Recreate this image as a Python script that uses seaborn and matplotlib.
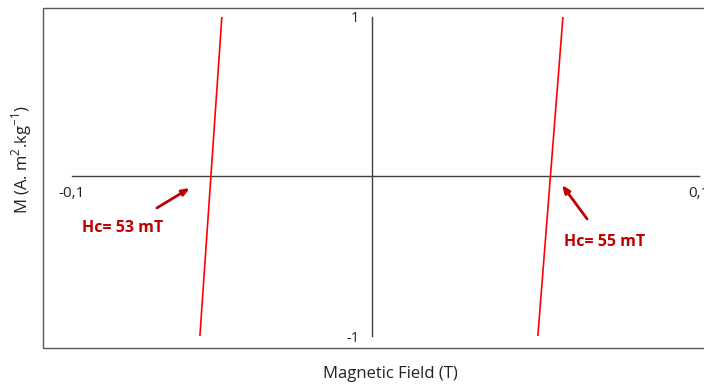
import matplotlib
matplotlib.use("Agg")
import matplotlib.pyplot as plt
import seaborn as sns
import pandas as pd
from matplotlib.patches import Rectangle

# hysteresis branches (field in T, M normalised)
left_field = [-0.0592, -0.0522]
left_m = [-1, 1]
right_field = [0.0486, 0.0566]
right_m = [-1, 1]

xticks = [-0.1, 0, 0.1]
xtick_labels = ['-0,1', '', '0,1']
yticks = [-1, 1]
ytick_labels = ['-1', '1']

labels = ['Hc= 53 mT', 'Hc= 55 mT']
arrow_tails = [(-0.0729, -0.197), (0.0643, -0.266)]
arrow_heads = [(-0.0624, -0.072), (0.0563, -0.053)]
label_pos = [(-0.0837, -0.323), (0.0700, -0.411)]

sns.set_style('white')
plt.rcParams['font.family'] = ['Open Sans', 'DejaVu Sans']
plt.rcParams['mathtext.fontset'] = 'custom'
plt.rcParams['mathtext.rm'] = 'Open Sans'

fig = plt.figure(figsize=(7.04, 3.85), dpi=100)
ax = fig.add_axes([72 / 704, 1 - 336 / 385, 627 / 704, 319 / 385])

left_df = pd.DataFrame({'H': left_field, 'M': left_m})
right_df = pd.DataFrame({'H': right_field, 'M': right_m})
sns.lineplot(data=left_df, x='H', y='M', color='#ff0000', linewidth=1.2, sort=False, ax=ax)
sns.lineplot(data=right_df, x='H', y='M', color='#ff0000', linewidth=1.2, sort=False, ax=ax)

ax.set_xlim(-0.1, 0.1)
ax.set_ylim(-1, 1)
ax.set_xlabel('')
ax.set_ylabel('')

# axes cross in the middle like the excel chart
ax.spines['right'].set_visible(False)
ax.spines['top'].set_visible(False)
ax.spines['left'].set_position(('data', -0.0043))
ax.spines['bottom'].set_position(('data', 0))
for s in ['left', 'bottom']:
    ax.spines[s].set_color('#404040')
    ax.spines[s].set_linewidth(1)
    ax.spines[s].set_zorder(1)

ax.set_xticks(xticks)
ax.set_xticklabels(xtick_labels)
ax.set_yticks(yticks)
ax.set_yticklabels(ytick_labels)
ax.tick_params(axis='x', length=3, width=0.8, color='#404040', pad=4, labelsize=11, labelcolor='#222222')
ax.tick_params(axis='y', length=0, pad=9, labelsize=10.5, labelcolor='#222222')
ax.patch.set_alpha(0)

for lab, tail, head, pos in zip(labels, arrow_tails, arrow_heads, label_pos):
    ax.annotate('', xy=head, xytext=tail,
                arrowprops=dict(arrowstyle='-|>,head_length=0.45,head_width=0.18',
                                color='#c00000', lw=2, shrinkA=0, shrinkB=0))
    ax.text(pos[0], pos[1], lab, color='#c00000', fontsize=11.5, fontweight='bold',
            ha='center', va='center')

# outer chart border
fig.patches.append(Rectangle((43 / 704, 1 - 348 / 385), 700 / 704, 340 / 385,
                             transform=fig.transFigure, fill=False,
                             edgecolor='#595959', linewidth=1))

fig.text(22 / 704, 1 - 160 / 385, r'M (A. m$^{\mathregular{2}}$.kg$^{\mathregular{-1}}$)',
         rotation=90, ha='center', va='center', fontsize=12, color='#222222')
fig.text(390 / 704, 1 - 374 / 385, 'Magnetic Field (T)', ha='center', va='center',
         fontsize=12, color='#222222')

fig.savefig('out.png', dpi=100)
